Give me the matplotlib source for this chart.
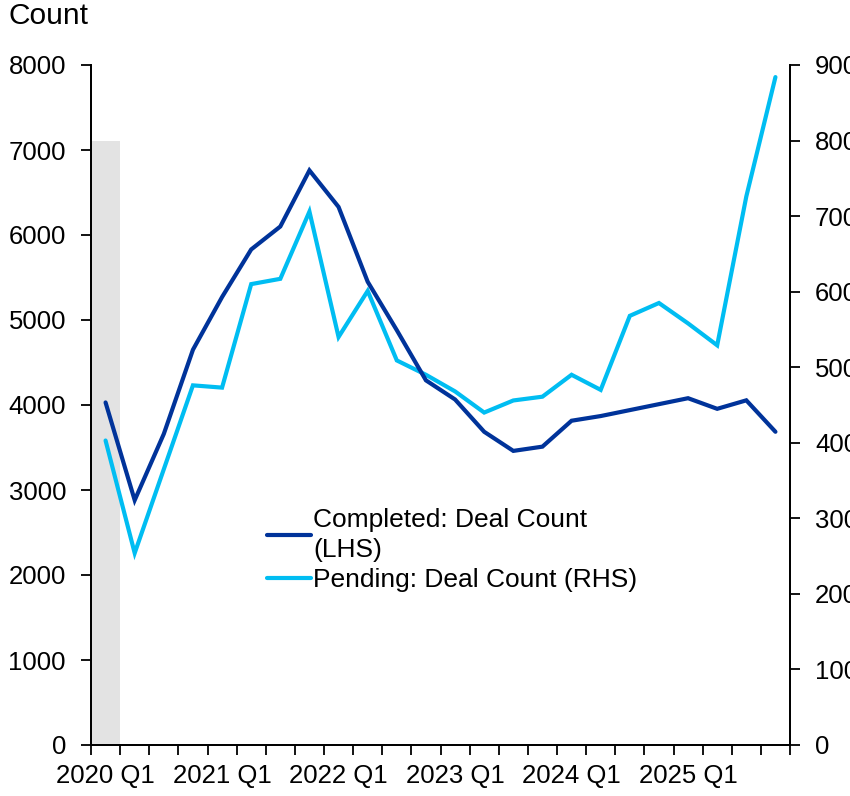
import numpy as np
import matplotlib
matplotlib.use('Agg')
import matplotlib.pyplot as plt

# Data
quarters = ['%d Q%d' % (y, q) for y in range(2020, 2026) for q in range(1, 5)]
completed = [4030, 2880, 3660, 4650, 5270, 5830, 6100, 6760, 6330, 5450, 4880, 4290,
             4065, 3685, 3460, 3510, 3815, 3870, 3940, 4010, 4080, 3955, 4055, 3685]
pending = [403, 254, 365, 476, 473, 610, 617, 706, 540, 601, 509, 490,
           468, 440, 456, 461, 490, 470, 568, 585, 558, 529, 726, 884]
recession_quarters = ['2020 Q1']
recession_height = 800  # on RHS scale

col_completed = '#00339A'
col_pending = '#00BDF2'
fs = 18.5

plt.rcParams['font.family'] = ['Liberation Sans', 'DejaVu Sans']
plt.rcParams['font.size'] = fs

fig = plt.figure(figsize=(8.5, 7.96), dpi=100)
ax = fig.add_axes([91/850, 51/796, 699/850, 680/796])
ax2 = ax.twinx()
ax.set_zorder(ax2.get_zorder() + 1)
ax.patch.set_visible(False)

x = np.arange(len(quarters))

# Shaded period on the right axis
for q in recession_quarters:
    ax2.bar(quarters.index(q), recession_height, width=1.0, color='#E3E3E3', zorder=0, linewidth=0)

ax2.plot(x, pending, color=col_pending, lw=3.0, solid_capstyle='round', solid_joinstyle='miter',
         label='Pending: Deal Count (RHS)')
ax.plot(x, completed, color=col_completed, lw=3.0, solid_capstyle='round', solid_joinstyle='miter',
        label='Completed: Deal Count\n(LHS)')

ax.set_xlim(-0.5, len(quarters) - 0.5)
ax.set_ylim(0, 8000)
ax2.set_ylim(0, 900)
ax.set_yticks(np.arange(0, 8001, 1000))
ax2.set_yticks(np.arange(0, 901, 100))

# x ticks at category boundaries, labels at every 4th category centre
ax.set_xticks(np.arange(-0.5, len(quarters), 1.0))
ax.set_xticklabels([])
lab_pos = x[::4]
ax.set_xticks(lab_pos, minor=True)
ax.set_xticklabels([quarters[i] for i in lab_pos], minor=True)
ax.tick_params(axis='x', which='minor', length=0, pad=14, labelsize=fs)
ax.tick_params(axis='x', which='major', length=7, width=1.3, direction='out')
ax.tick_params(axis='y', length=7, width=1.3, pad=11, labelsize=fs)
ax2.tick_params(axis='y', length=7, width=1.3, pad=11, labelsize=fs)

for a in (ax, ax2):
    a.spines['top'].set_visible(False)
    for s in ('left', 'right', 'bottom'):
        a.spines[s].set_linewidth(1.3)

h1, l1 = ax.get_legend_handles_labels()
h2, l2 = ax2.get_legend_handles_labels()
leg = ax.legend(h1 + h2, l1 + l2, loc='upper left', bbox_to_anchor=(0.252, 0.348),
                frameon=False, borderaxespad=0, borderpad=0, handlelength=1.65,
                handletextpad=0.1, labelspacing=0.22, fontsize=19)
for t in leg.get_texts():
    t.set_linespacing(1.3)

fig.text(8/850, 1 - 2/796, 'Count', ha='left', va='top', fontsize=21.5)

fig.savefig('out.png', dpi=100)
